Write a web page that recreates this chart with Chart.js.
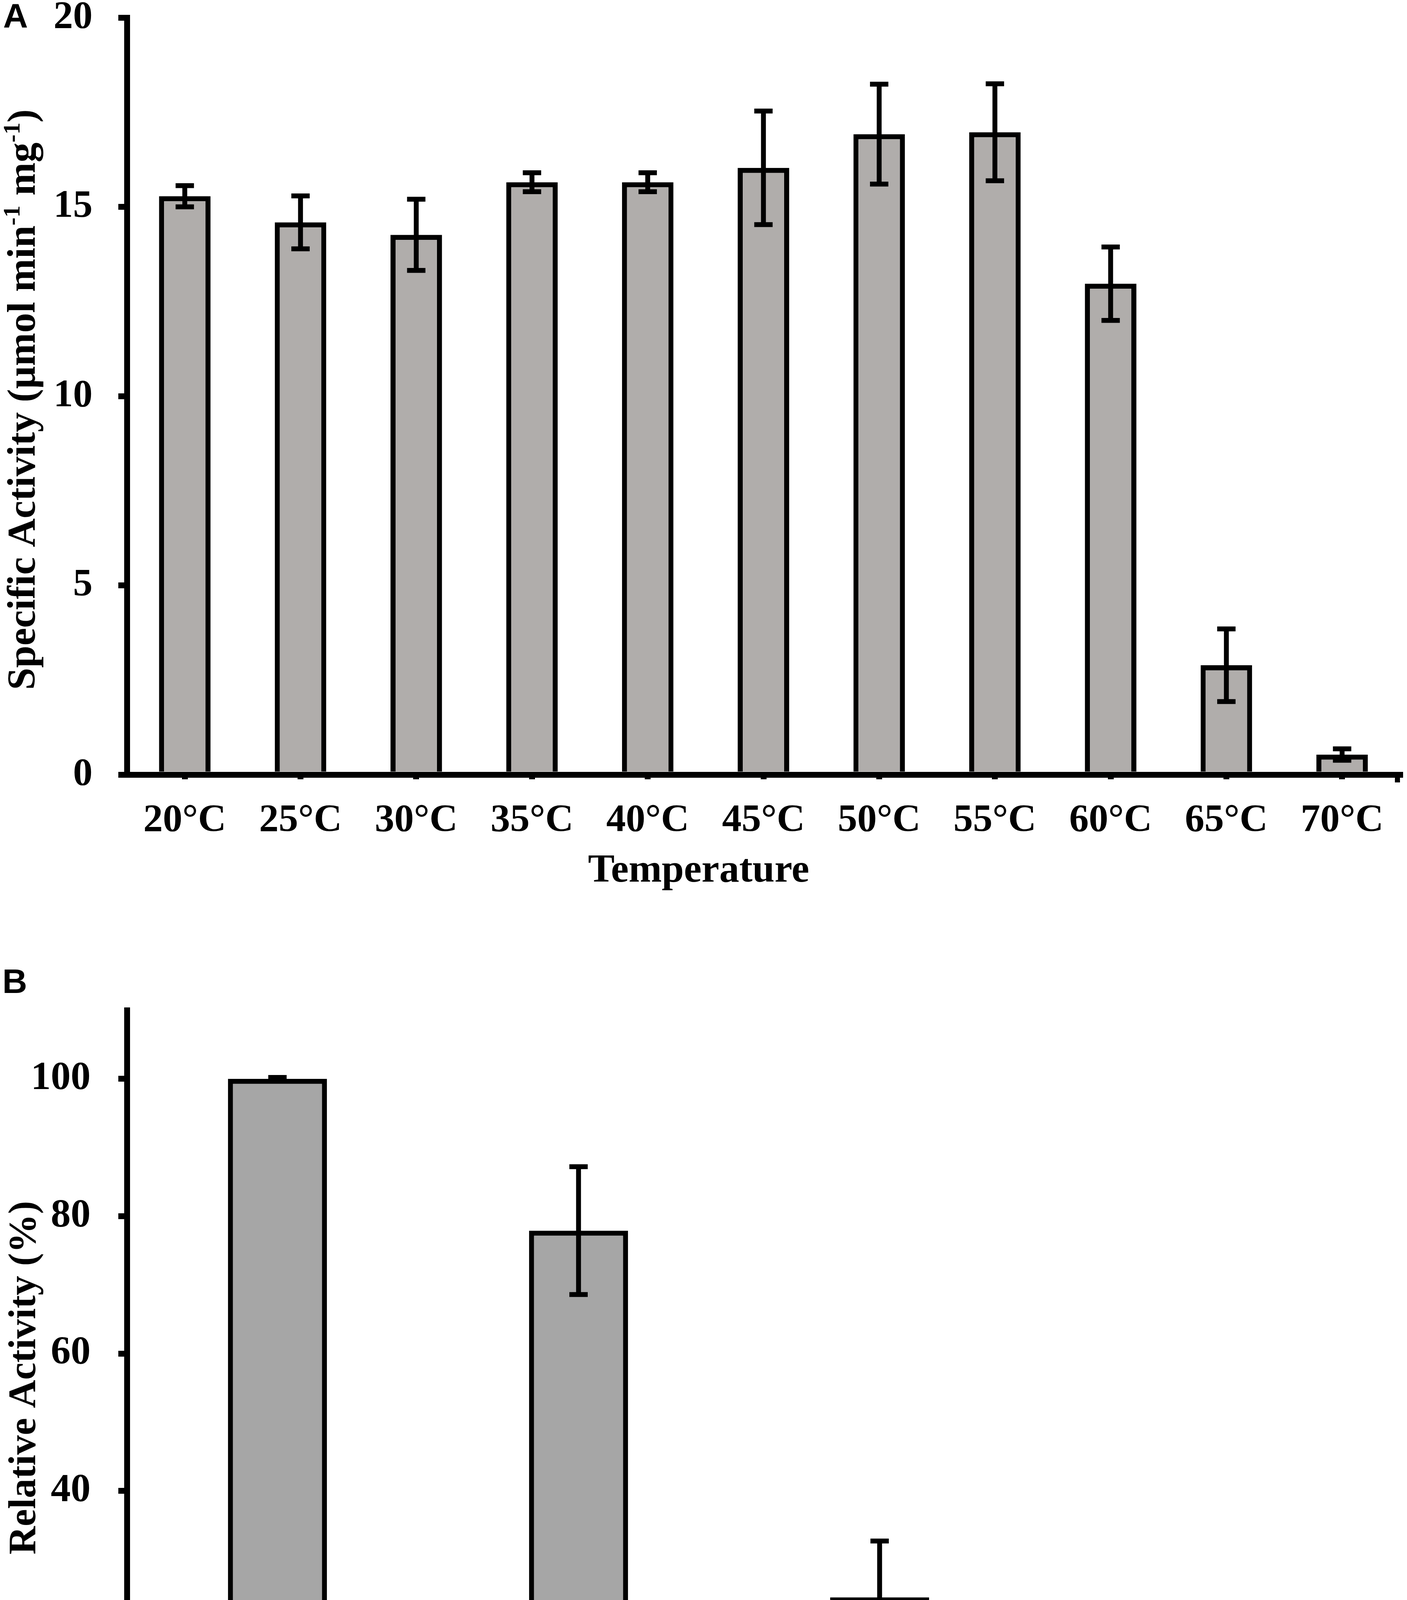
<!DOCTYPE html>
<html><head><meta charset="utf-8">
<script src="https://cdn.jsdelivr.net/npm/chart.js@4.4.1/dist/chart.umd.min.js"></script>
<style>
html,body{margin:0;padding:0;background:#fff;width:3603px;height:4845px;overflow:hidden}
canvas{position:absolute;left:0}
</style></head>
<body>
<canvas id="cA" width="3603" height="2330" style="top:0px;width:3603px;height:2330px"></canvas>
<canvas id="cB" width="3603" height="2515" style="top:2330px;width:3603px;height:2515px"></canvas>
<script>
// ---------- data ----------
const categoriesA = ['20°C','25°C','30°C','35°C','40°C','45°C','50°C','55°C','60°C','65°C','70°C'];
const valuesA = [15.28, 14.59, 14.26, 15.65, 15.65, 16.03, 16.92, 16.97, 12.97, 2.89, 0.53];
const errorsA = [0.28, 0.70, 0.94, 0.25, 0.25, 1.50, 1.32, 1.28, 0.97, 0.96, 0.15];
const yTicksA = [0, 5, 10, 15, 20];

const categoriesB = ['Control','55°C','75°C','95°C'];
const valuesB = [100, 77.9, 24.5, 6.6];
const errorsB = [0.2, 9.3, 8.2, 3.1];
const yTicksB = [0, 20, 40, 60, 80, 100];

Chart.defaults.font.family = '"Liberation Serif", "Times New Roman", serif';
Chart.defaults.color = '#000';

const errorBarPlugin = {
  id: 'errbars',
  afterDatasetsDraw(chart, args, o) {
    const ctx = chart.ctx, ds = chart.data.datasets[0], meta = chart.getDatasetMeta(0), y = chart.scales.y;
    ctx.save();
    ctx.strokeStyle = '#000'; ctx.lineWidth = o.lw; ctx.lineCap = 'butt';
    meta.data.forEach((bar, i) => {
      const v = ds.data[i], e = ds.errors[i];
      const hi = y.getPixelForValue(v + e), lo = y.getPixelForValue(v - e), x = bar.x;
      ctx.beginPath();
      ctx.moveTo(x, hi); ctx.lineTo(x, lo);
      ctx.moveTo(x - o.cap, hi); ctx.lineTo(x + o.cap, hi);
      ctx.moveTo(x - o.cap, lo); ctx.lineTo(x + o.cap, lo);
      ctx.stroke();
    });
    ctx.restore();
  }
};

const decoPlugin = {
  id: 'deco',
  afterDraw(chart, args, o) {
    const ctx = chart.ctx;
    ctx.save();
    ctx.fillStyle = '#000';
    ctx.textBaseline = 'alphabetic';
    ctx.font = 'bold ' + o.letterSize + 'px "Liberation Sans", Arial, sans-serif';
    ctx.textAlign = 'left';
    ctx.fillText(o.letter, o.letterX, o.letterY);
    ctx.font = 'bold ' + o.xTitleSize + 'px "Liberation Serif"';
    ctx.textAlign = 'center';
    ctx.fillText(o.xTitle, o.xTitleX, o.xTitleY);
    if (o.endTick) {
      const a = chart.chartArea;
      ctx.fillRect(a.right - 13, a.bottom, 13, 20);
    }
    ctx.translate(o.yTitleX, o.yTitleY);
    ctx.rotate(-Math.PI / 2);
    const base = o.yTitleSize, sup = base * 0.6;
    let total = 0;
    o.yTitle.forEach(s => {
      ctx.font = 'bold ' + (s.sup ? sup : base) + 'px "Liberation Serif"';
      s.w = ctx.measureText(s.t).width; total += s.w;
    });
    let x = -total / 2;
    ctx.textAlign = 'left';
    o.yTitle.forEach(s => {
      ctx.font = 'bold ' + (s.sup ? sup : base) + 'px "Liberation Serif"';
      ctx.fillText(s.t, x, s.sup ? -base * 0.38 : 0);
      x += s.w;
    });
    ctx.restore();
  }
};

function makeChart(id, cfg) {
  return new Chart(document.getElementById(id), {
    type: 'bar',
    data: {
      labels: cfg.labels,
      datasets: [{
        data: cfg.values, errors: cfg.errors,
        backgroundColor: cfg.fill, borderColor: '#000', borderWidth: 13,
        borderSkipped: 'start',
        barPercentage: cfg.barPct, categoryPercentage: 1
      }]
    },
    options: {
      responsive: false, animation: false, devicePixelRatio: 1,
      layout: { padding: { top: cfg.padTop, right: cfg.padRight, left: 0, bottom: 0 } },
      plugins: {
        legend: { display: false }, tooltip: { enabled: false },
        errbars: { lw: 12.5, cap: 23.5 },
        deco: cfg.deco
      },
      scales: {
        x: {
          afterFit: s => { s.height = cfg.xHeight; s.paddingLeft = 0; s.paddingRight = 0; },
          grid: { display: cfg.xTicks, drawOnChartArea: false, offset: false, color: '#000', lineWidth: 15, tickLength: 12 },
          border: { display: true, color: '#000', width: 15 },
          ticks: { font: { size: 100, weight: 'bold', lineHeight: 1.2 }, color: '#000', padding: cfg.xPad, maxRotation: 0, autoSkip: false }
        },
        y: {
          min: 0, max: cfg.yMax,
          afterFit: s => { s.width = 325; s.paddingTop = 0; s.paddingBottom = 0; },
          afterBuildTicks: s => { s.ticks = cfg.yTicks.map(v => ({ value: v })); },
          grid: { display: true, drawOnChartArea: false, color: '#000', lineWidth: 15, tickLength: 22 },
          border: { display: true, color: '#000', width: 15 },
          ticks: { font: { size: cfg.yFont, weight: 'bold', lineHeight: 0.8 }, color: '#000', padding: cfg.yPad }
        }
      }
    },
    plugins: [errorBarPlugin, decoPlugin]
  });
}

makeChart('cA', {
  labels: categoriesA, values: valuesA, errors: errorsA, fill: '#b0adab', barPct: 0.445,
  padTop: 45, padRight: 18, xHeight: 2330 - 1983, xTicks: true, xPad: 46,
  yMax: 20, yTicks: yTicksA, yFont: 100, yPad: 66,
  deco: {
    letter: 'A', letterSize: 88, letterX: 8, letterY: 70,
    xTitle: 'Temperature', xTitleSize: 102, xTitleX: 1789, xTitleY: 2257, endTick: true,
    yTitle: [{ t: 'Specific Activity (µmol min' }, { t: '-1', sup: true }, { t: ' mg' }, { t: '-1', sup: true }, { t: ')' }],
    yTitleSize: 102, yTitleX: 89, yTitleY: 1023
  }
});

makeChart('cB', {
  labels: categoriesB, values: valuesB, errors: errorsB, fill: '#a6a6a6', barPct: 0.329,
  padTop: 2586 - 2330, padRight: 3603 - 3409, xHeight: 2515 - (4520 - 2330), xTicks: false, xPad: 54,
  yMax: 110, yTicks: yTicksB, yFont: 102, yPad: 71,
  deco: {
    letter: 'B', letterSize: 88, letterX: 6, letterY: 2542 - 2330,
    xTitle: 'Temperature', xTitleSize: 99, xTitleX: 1839, xTitleY: 4810 - 2330, endTick: false,
    yTitle: [{ t: 'Relative Activity (%)' }],
    yTitleSize: 100, yTitleX: 90, yTitleY: 3527 - 2330
  }
});
</script>
</body></html>
